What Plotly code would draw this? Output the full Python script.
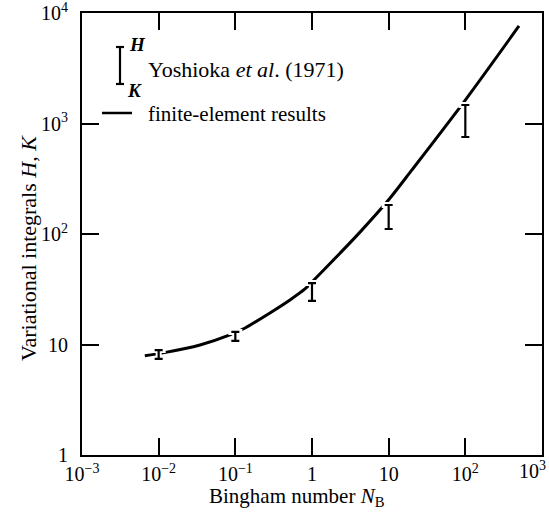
import plotly.graph_objects as go

# ---- data ----
curve_x = [0.0066, 0.0114, 0.0346, 0.085, 0.134, 0.283, 0.516, 0.81, 1.0,
           2.32, 4.23, 10.0, 20.1, 100.0, 501.0]
curve_y = [7.9, 8.4, 9.9, 12.2, 14.1, 19.3, 25.3, 31.8, 36.8,
           67.0, 104.0, 204.0, 380.0, 1630.0, 7630.0]

bar_x = [0.01, 0.1, 1.0, 10.0, 100.0]
bar_H = [8.9, 13.0, 36.0, 183.0, 1470.0]
bar_K = [7.4, 10.8, 24.8, 111.0, 755.0]

x_tickvals = [1e-3, 1e-2, 1e-1, 1, 10, 1e2, 1e3]
x_ticktext = ["10<sup>−3</sup>", "10<sup>−2</sup>", "10<sup>−1</sup>", "1", "10",
              "10<sup>2</sup>", "10<sup>3</sup>"]
y_tickvals = [1, 10, 1e2, 1e3, 1e4]
y_ticktext = ["1", "10", "10<sup>2</sup>", "10<sup>3</sup>", "10<sup>4</sup>"]

FONT = "Liberation Serif"

# plot area in pixels
L, R, T, B = 82, 542, 13, 455
W, H = 549, 512


def px(xp):
    return (xp - L) / (R - L)


def py(yp):
    return (B - yp) / (B - T)


fig = go.Figure()

fig.add_trace(go.Scatter(x=curve_x, y=curve_y, mode="lines",
                         line=dict(color="black", width=3, shape="spline", smoothing=0.8),
                         showlegend=False, hoverinfo="skip"))

diff = [h - k for h, k in zip(bar_H, bar_K)]
# white underlay to break the curve around bars
fig.add_trace(go.Scatter(x=bar_x, y=bar_K, mode="markers",
                         marker=dict(size=1, color="rgba(0,0,0,0)"),
                         error_y=dict(type="data", symmetric=False, array=diff,
                                      arrayminus=[0] * len(diff),
                                      color="white", thickness=6, width=7),
                         showlegend=False, hoverinfo="skip"))
fig.add_trace(go.Scatter(x=bar_x, y=bar_K, mode="markers",
                         marker=dict(size=1, color="rgba(0,0,0,0)"),
                         error_y=dict(type="data", symmetric=False, array=diff,
                                      arrayminus=[0] * len(diff),
                                      color="black", thickness=2.2, width=4),
                         showlegend=False, hoverinfo="skip"))

tick_font = dict(family=FONT, size=20, color="black")
axis_common = dict(showgrid=False, zeroline=False, showline=True, linecolor="black",
                   linewidth=2, mirror="ticks", ticks="inside", ticklen=17,
                   tickwidth=2, tickcolor="black", ticklabeloverflow="allow",
                   automargin=False, tickfont=tick_font)

# last x label sits at the right edge; draw it as an annotation kept inside the page
fig.update_xaxes(type="log", range=[-3, 3], tickvals=x_tickvals,
                 ticktext=x_ticktext[:-1] + [""], **axis_common)
fig.update_yaxes(type="log", range=[0, 4], tickvals=y_tickvals, ticktext=y_ticktext,
                 ticklabelstandoff=8, **axis_common)

shapes = []
# legend error-bar glyph
bx, btop, bbot = 120, 47, 84
shapes.append(dict(type="line", xref="paper", yref="paper", x0=px(bx), x1=px(bx),
                   y0=py(btop), y1=py(bbot), line=dict(color="black", width=2.2)))
for yy in (btop, bbot):
    shapes.append(dict(type="line", xref="paper", yref="paper", x0=px(bx - 4), x1=px(bx + 4),
                       y0=py(yy), y1=py(yy), line=dict(color="black", width=2.2)))
# legend line glyph
shapes.append(dict(type="line", xref="paper", yref="paper", x0=px(102), x1=px(132),
                   y0=py(113), y1=py(113), line=dict(color="black", width=2.5)))

annotations = [
    dict(text=x_ticktext[-1], x=px(548), y=py(470), xref="paper", yref="paper",
         xanchor="right", yanchor="middle", showarrow=False, font=tick_font),
    dict(text="<b><i>H</i></b>", x=px(127), y=py(45), xref="paper", yref="paper",
         xanchor="left", yanchor="middle", showarrow=False,
         font=dict(family=FONT, size=19, color="black")),
    dict(text="<b><i>K</i></b>", x=px(125), y=py(90), xref="paper", yref="paper",
         xanchor="left", yanchor="middle", showarrow=False,
         font=dict(family=FONT, size=19, color="black")),
    dict(text="Yoshioka <i>et al</i>. (1971)", x=px(146), y=py(69), xref="paper",
         yref="paper", xanchor="left", yanchor="middle", showarrow=False,
         font=dict(family=FONT, size=22, color="black")),
    dict(text="finite-element results", x=px(146), y=py(114), xref="paper",
         yref="paper", xanchor="left", yanchor="middle", showarrow=False,
         font=dict(family=FONT, size=21, color="black")),
    dict(text="Bingham number <i>N</i><sub>B</sub>", x=px(297), y=py(497), xref="paper",
         yref="paper", xanchor="center", yanchor="middle", showarrow=False,
         font=dict(family=FONT, size=21, color="black")),
    dict(text="Variational integrals <i>H</i>, <i>K</i>", x=px(28), y=py(248),
         xref="paper", yref="paper", xanchor="center", yanchor="middle",
         textangle=-90, showarrow=False,
         font=dict(family=FONT, size=22, color="black")),
]

fig.update_layout(width=W, height=H, margin=dict(l=L, r=W - R, t=T, b=H - B),
                  paper_bgcolor="white", plot_bgcolor="white",
                  shapes=shapes, annotations=annotations, showlegend=False)

fig.write_html("out.html")
